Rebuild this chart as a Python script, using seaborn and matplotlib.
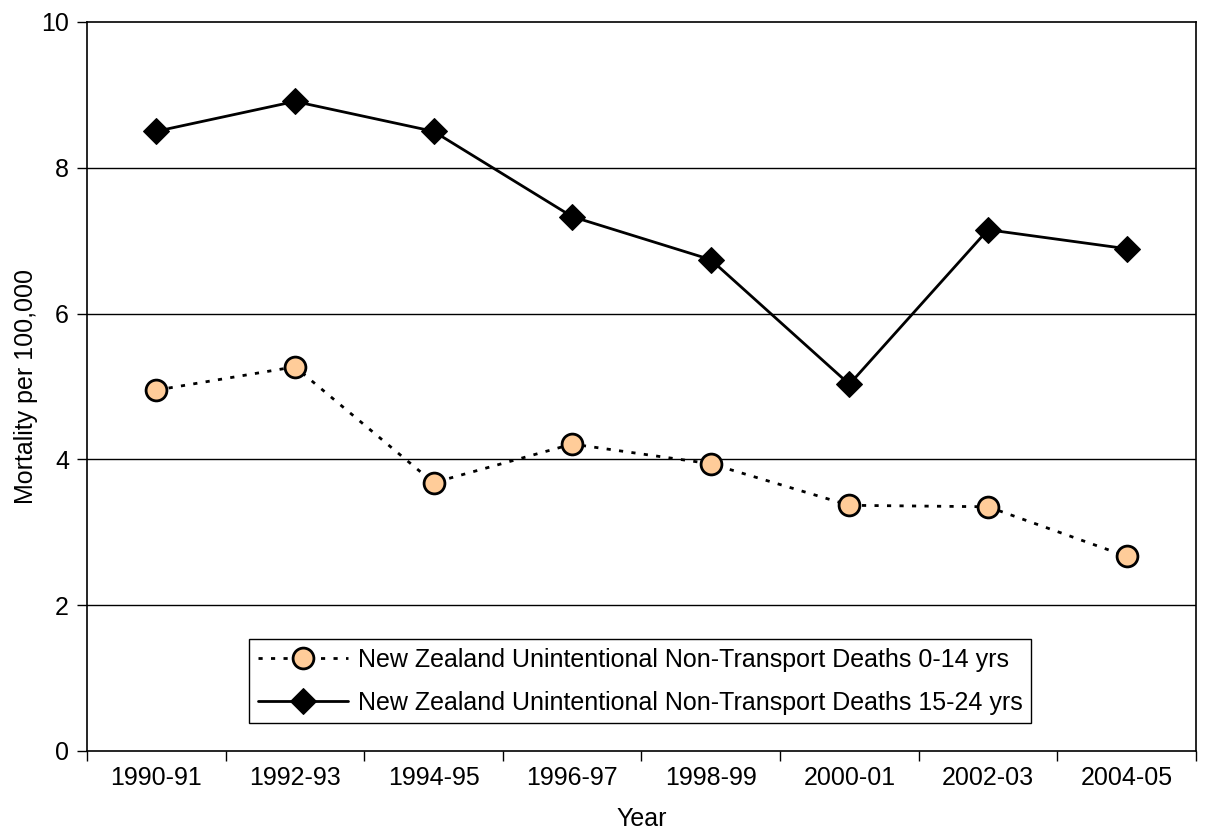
import numpy as np
import pandas as pd
import matplotlib
matplotlib.use("Agg")
import matplotlib.pyplot as plt
import seaborn as sns

# Dados
years = ["1990-91", "1992-93", "1994-95", "1996-97", "1998-99", "2000-01", "2002-03", "2004-05"]
deaths_0_14 = [4.95, 5.27, 3.68, 4.21, 3.94, 3.37, 3.35, 2.67]
deaths_15_24 = [8.50, 8.91, 8.50, 7.33, 6.74, 5.03, 7.15, 6.89]
label_0_14 = "New Zealand Unintentional Non-Transport Deaths 0-14 yrs"
label_15_24 = "New Zealand Unintentional Non-Transport Deaths 15-24 yrs"

sns.set_style("white")
plt.rcParams['font.family'] = ['Liberation Sans', 'DejaVu Sans']
plt.rcParams['text.color'] = 'black'
plt.rcParams['axes.labelcolor'] = 'black'
plt.rcParams['xtick.color'] = 'black'
plt.rcParams['ytick.color'] = 'black'
fs = 18

fig = plt.figure(figsize=(12.08, 8.36), dpi=100)
ax = fig.add_axes([0.072, 0.1017, 0.918, 0.872])

df = pd.DataFrame({"pos": np.arange(len(years)), "young": deaths_0_14, "older": deaths_15_24})

sns.lineplot(data=df, x="pos", y="young", ax=ax, color="black", linewidth=2,
             linestyle=(0, (1.5, 3)), marker="o", markersize=15,
             markerfacecolor="#FFCC99", markeredgecolor="black", markeredgewidth=2,
             label=label_0_14)
sns.lineplot(data=df, x="pos", y="older", ax=ax, color="black", linewidth=2,
             marker="D", markersize=13, markerfacecolor="black",
             markeredgecolor="black", label=label_15_24)

ax.set_xlim(-0.5, len(years) - 0.5)
ax.set_ylim(0, 10)
ax.set_yticks([0, 2, 4, 6, 8, 10])
ax.set_xticks(np.arange(len(years)))
ax.set_xticklabels(years)
ax.set_xticks(np.arange(len(years) + 1) - 0.5, minor=True)
ax.tick_params(axis="x", which="major", length=0, labelsize=fs, pad=11)
ax.tick_params(axis="x", which="minor", length=7, width=1, color="black", direction="out", bottom=True)
ax.tick_params(axis="y", length=7, width=1, color="black", direction="out", left=True, labelsize=fs, pad=6)

for y in [2, 4, 6, 8]:
    ax.axhline(y, color="black", linewidth=1, zorder=0)

for s in ax.spines.values():
    s.set_visible(True)
    s.set_color("black")
    s.set_linewidth(1.2)

ax.set_xlabel("Year", fontsize=fs, labelpad=12)
ax.set_ylabel("Mortality per 100,000", fontsize=fs, labelpad=2)

leg = ax.legend(loc="lower left", bbox_to_anchor=(0.146, 0.038), fontsize=fs,
                frameon=True, fancybox=False, edgecolor="black", framealpha=1,
                handlelength=3.6, handletextpad=0.4, borderpad=0.35, labelspacing=0.75,
                borderaxespad=0)
leg.get_frame().set_linewidth(1)

fig.savefig("out.png", dpi=100)
